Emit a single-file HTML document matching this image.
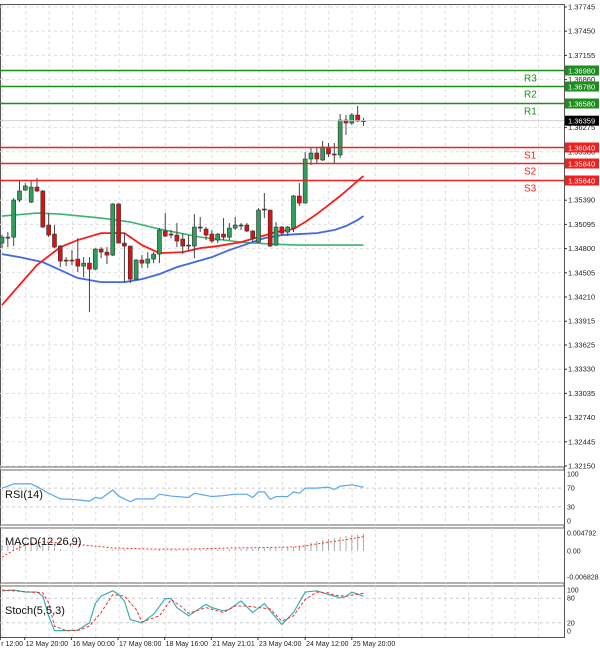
<!DOCTYPE html>
<html><head><meta charset="utf-8"><style>
html,body{margin:0;padding:0;background:#fff;width:600px;height:654px;overflow:hidden}
svg{display:block;font-family:"Liberation Sans",sans-serif}
</style></head><body>
<svg id="c" width="600" height="654" xmlns="http://www.w3.org/2000/svg"></svg>
<script>
const opens=[1.34867,1.34940,1.34940,1.35392,1.35514,1.35367,1.35550,1.35502,1.35087,1.34977,1.34831,1.34660,1.34660,1.34672,1.34587,1.34623,1.34550,1.34794,1.34757,1.34721,1.35343,1.34867,1.34831,1.34428,1.34660,1.34623,1.34672,1.34733,1.35014,1.34977,1.34965,1.34916,1.34843,1.34831,1.35063,1.35038,1.34977,1.34904,1.34977,1.34940,1.35050,1.35087,1.35087,1.35014,1.34879,1.35282,1.35270,1.34843,1.35063,1.35002,1.35050,1.35441,1.35355,1.35892,1.35965,1.35880,1.36038,1.35953,1.35941,1.36367,1.36331,1.36428,1.36355];
const highs=[1.34965,1.35002,1.35416,1.35624,1.35599,1.35624,1.35660,1.35514,1.35233,1.35087,1.34843,1.34696,1.34782,1.34928,1.34696,1.34696,1.34806,1.34818,1.34818,1.35355,1.35355,1.34989,1.34831,1.34672,1.34721,1.34757,1.34757,1.35050,1.35233,1.35026,1.35111,1.34989,1.34965,1.35221,1.35185,1.35063,1.35026,1.34989,1.35172,1.35111,1.35185,1.35111,1.35111,1.35026,1.35294,1.35477,1.35270,1.35124,1.35075,1.35075,1.35453,1.35599,1.35977,1.36026,1.36026,1.36111,1.36087,1.36087,1.36440,1.36428,1.36453,1.36538,1.36392];
const lows=[1.34806,1.34818,1.34831,1.35367,1.35502,1.35355,1.35489,1.35050,1.34940,1.34806,1.34574,1.34587,1.34599,1.34513,1.34452,1.34025,1.34538,1.34684,1.34611,1.34709,1.34867,1.34391,1.34379,1.34416,1.34562,1.34562,1.34623,1.34623,1.34940,1.34928,1.34818,1.34733,1.34782,1.34684,1.35002,1.34904,1.34867,1.34867,1.34904,1.34904,1.35026,1.35026,1.35002,1.34879,1.34867,1.35172,1.34818,1.34831,1.34965,1.34953,1.35002,1.35319,1.35355,1.35819,1.35831,1.35867,1.35916,1.35843,1.35904,1.36184,1.36306,1.36343,1.36294];
const closes=[1.34940,1.34940,1.35392,1.35502,1.35563,1.35550,1.35502,1.35063,1.34965,1.34818,1.34648,1.34655,1.34655,1.34587,1.34623,1.34550,1.34794,1.34757,1.34721,1.35343,1.34867,1.34831,1.34428,1.34660,1.34623,1.34672,1.34733,1.35026,1.34953,1.34970,1.34892,1.34831,1.34831,1.35063,1.35050,1.34965,1.34892,1.34977,1.34940,1.35050,1.35087,1.35082,1.35014,1.34928,1.35270,1.35277,1.34831,1.35063,1.34989,1.35063,1.35441,1.35355,1.35892,1.35965,1.35892,1.36038,1.35953,1.35948,1.36367,1.36331,1.36428,1.36355,1.36359];
const maRedIdx=[0,3,6,10,13,17,21,24,27,31,34,37,41,44,47,50,52,54,56,58,60,62];
const maRedVal=[1.34112,1.34356,1.34599,1.34818,1.34904,1.34989,1.34989,1.34843,1.34745,1.34757,1.34806,1.34831,1.34879,1.34940,1.35002,1.35038,1.35124,1.35221,1.35331,1.35441,1.35563,1.35685];
const maBlueIdx=[0,3,7,10,13,17,21,24,27,30,33,36,39,42,45,48,51,54,57,59,61,62];
const maBlueVal=[1.34733,1.34696,1.34635,1.34538,1.34441,1.34391,1.34391,1.34428,1.34489,1.34574,1.34635,1.34696,1.34782,1.34855,1.34928,1.34965,1.34977,1.34989,1.35026,1.35075,1.35148,1.35197];
const maGreenIdx=[0,6,10,17,22,27,34,41,46,51,62];
const maGreenVal=[1.35197,1.35233,1.35221,1.35172,1.35124,1.35038,1.34940,1.34879,1.34855,1.34843,1.34843];
const priceTicks=["1.37745","1.37450","1.37155","1.36860","1.36275","1.35980","1.35390","1.35095","1.34800","1.34505","1.34210","1.33915","1.33625","1.33330","1.33035","1.32740","1.32445","1.32150"];
const resLevels=[1.36980,1.36780,1.36580];
const resNames=["R3","R2","R1"];
const supLevels=[1.36040,1.35840,1.35640];
const supNames=["S1","S2","S3"];
const lastPrice=1.36359;
const rsiIdx=[0,1,2,5,6,8,10,12,13,15,16,17,19,20,22,23,26,27,29,32,33,36,38,40,42,43,44,45,46,47,49,50,51,52,54,56,57,58,60,62];
const rsiVal=[70,74,79,79,73,59,47,46,45,42,50,48,66,53,41,47,47,57,53,50,59,52,54,57,57,50,62,62,46,52,52,62,59,70,70,72,67,74,77,72];
const macdHist=[0.0016,0.0018,0.0020,0.0022,0.0024,0.0025,0.0024,0.0020,0.0014,0.0009,0.0005,0.0002,0.0001,0.0000,-0.0001,-0.0001,0.0000,0.0001,0.0002,0.0004,0.0004,0.0003,0.0001,0.0000,0.0000,0.0001,0.0002,0.0003,0.0003,0.0003,0.0003,0.0002,0.0003,0.0004,0.0004,0.0004,0.0004,0.0004,0.0004,0.0005,0.0005,0.0006,0.0006,0.0006,0.0008,0.0009,0.0009,0.0008,0.0009,0.0010,0.0011,0.0014,0.0018,0.0022,0.0026,0.0029,0.0032,0.0034,0.0036,0.0040,0.0042,0.0044,0.0045];
const macdSigIdx=[0,2,4,7,10,14,19,26,32,39,45,51,55,59,62];
const macdSigVal=[-0.0016,0.0002,0.0016,0.0024,0.0021,0.0016,0.0008,0.0005,0.0005,0.0008,0.0009,0.0011,0.0021,0.0030,0.0038];
const stochKIdx=[0,2,4,6,7,8,9,11,13,15,16,17,19,20,21,22,24,26,28,29,30,32,35,36,38,39,41,43,45,46,48,50,52,54,56,58,59,60,62];
const stochKVal=[98,100,95,95,85,37,1,1,2,20,67,85,98,89,73,28,20,41,79,79,57,37,65,57,49,53,73,45,67,49,16,45,95,98,89,81,84,95,85];
const stochDIdx=[0,2,5,7,8,9,11,13,15,17,19,21,23,24,27,29,31,32,35,38,40,42,44,46,48,50,52,54,56,57,59,62];
const stochDVal=[100,98,95,93,69,12,1,1,12,45,89,85,53,22,37,77,57,43,57,45,61,61,57,54,24,37,77,95,93,87,85,92];
const timeLabels=["r 12:00","12 May 20:00","16 May 00:00","17 May 08:00","18 May 16:00","21 May 21:01","23 May 04:00","24 May 12:00","25 May 20:00"];
const timeLabelIdx=[-0.3,3.9,11.9,19.9,27.9,35.9,43.9,52,60];

const svg=document.getElementById('c');
const NS='http://www.w3.org/2000/svg';
function mk(tag,attrs,parent){const e=document.createElementNS(NS,tag);for(const k in attrs)e.setAttribute(k,attrs[k]);(parent||svg).appendChild(e);return e;}
const PR=564;
const xi=i=>2+i*5.83;
const yP=p=>466-(p-1.3215)*8204;
const yR=v=>521-v*0.47;
const yM=v=>551-v*3787;
const yS=v=>631-v*0.41;

// frame
let fr=mk('rect',{x:0.5,y:4.5,width:PR,height:633,fill:'none',stroke:'#555','stroke-width':1});

// panel separators
[[467,470],[525,528],[583,586]].forEach(([a,b])=>{
  let s=mk('rect',{x:0,y:a,width:PR,height:b-a,fill:'#fff',stroke:'#666','stroke-width':1});
  
});
// vertical grid
const grid=mk('g',{stroke:'#ddd','stroke-dasharray':'3,3','stroke-width':1});

for(let x=538.5;x>0;x-=23.3){[[5,467],[470,525],[528,583],[586,637]].forEach(([a,b])=>mk('line',{x1:x,y1:a,x2:x,y2:b},grid));}
// price ticks + horizontal grid
const pax=mk('g',{'font-size':'7.5',fill:'#222'});

priceTicks.forEach(t=>{const y=yP(parseFloat(t));
  mk('line',{x1:0,y1:y,x2:PR,y2:y,stroke:'#ddd','stroke-dasharray':'3,3'},grid);
  mk('line',{x1:PR,y1:y,x2:PR+3,y2:y,stroke:'#333'},pax);
  const tx=mk('text',{x:568,y:y+2.5},pax);tx.textContent=t;});
// MAs
function poly(idx,val,fy,col,w,dash,name){const pts=idx.map((i,k)=>xi(i)+','+fy(val[k])).join(' ');
  const p=mk('polyline',{points:pts,fill:'none',stroke:col,'stroke-width':w});if(dash)p.setAttribute('stroke-dasharray',dash);
  return p;}
poly(maGreenIdx,maGreenVal,yP,'#3cb371',1.6,null,'ma-green');
poly(maBlueIdx,maBlueVal,yP,'#4169e1',1.8,null,'ma-blue');
poly(maRedIdx,maRedVal,yP,'#ff1a1a',1.8,null,'ma-red');
// candles
const cg=mk('g',{});
opens.forEach((o,i)=>{const x=xi(i),c=closes[i];const up=c>=o;
  const w=mk('line',{x1:x,y1:yP(highs[i]),x2:x,y2:yP(lows[i]),stroke:'#444','stroke-width':1},cg);
  
  const t=Math.min(yP(o),yP(c)),h=Math.max(1,Math.abs(yP(o)-yP(c)));
  const r=mk('rect',{x:x-2,y:t,width:4,height:h,fill:up?'#2e9e5a':'#e01010',stroke:'#333','stroke-width':0.6},cg);
  });
// levels
function level(p,col,name,lab){const y=Math.round(yP(p))+0.5;
  const l=mk('line',{x1:0,y1:y,x2:PR,y2:y,stroke:col,'stroke-width':1.6});
  
  const b=mk('rect',{x:PR+1,y:y-5,width:34,height:10,fill:col});
  
  const t=mk('text',{x:PR+4,y:y+3,'font-size':'7.5',fill:'#fff'});t.textContent=lab;
  const n=mk('text',{x:524,y:y+11,'font-size':'10',fill:col});n.textContent=name;
  }
resLevels.forEach((p,k)=>level(p,'#1e8c1e',resNames[k],p.toFixed(5)));
supLevels.forEach((p,k)=>level(p,'#f02020',supNames[k],p.toFixed(5)));
{const y=yP(lastPrice);const l=mk('line',{x1:0,y1:y,x2:PR,y2:y,stroke:'#ccc','stroke-width':0.8});
 
 const b=mk('rect',{x:PR+1,y:y-5,width:34,height:10,fill:'#000'});
 
 const t=mk('text',{x:PR+4,y:y+3,'font-size':'7.5',fill:'#fff'});t.textContent=lastPrice.toFixed(5);}
// RSI panel
[[70,'70'],[30,'30']].forEach(([v])=>mk('line',{x1:0,y1:yR(v),x2:PR,y2:yR(v),stroke:'#ccc','stroke-dasharray':'3,3'}));
poly(rsiIdx,rsiVal,yR,'#5aa5f0',1.2,null,'rsi-line');
function ax(labels,fy,name){const g=mk('g',{'font-size':'7',fill:'#222'});
 labels.forEach(([v,s])=>{const t=mk('text',{x:567,y:fy(v)+2.5},g);t.textContent=s;});}
ax([[100,'100'],[70,'70'],[30,'30'],[0,'0']],yR,'rsi-axis');
let tl=mk('text',{x:5,y:498,'font-size':'11',fill:'#111'});tl.textContent='RSI(14)';
// MACD panel
const mg=mk('g',{stroke:'#aaa','stroke-width':1});
macdHist.forEach((v,i)=>mk('line',{x1:xi(i),y1:yM(0),x2:xi(i),y2:yM(v)},mg));
poly(macdSigIdx,macdSigVal,yM,'#f03030',1,'2,2','macd-signal');
ax([[0.004792,'0.004792'],[0,'0.00'],[-0.006828,'-0.006828']],yM,'macd-axis');
tl=mk('text',{x:5,y:545,'font-size':'11',fill:'#111'});tl.textContent='MACD(12,26,9)';
// Stoch
[80,20].forEach(v=>mk('line',{x1:0,y1:yS(v),x2:PR,y2:yS(v),stroke:'#ccc','stroke-dasharray':'3,3'}));
poly(stochKIdx,stochKVal,yS,'#3ab0b0',1.2,null,'stoch-k');
poly(stochDIdx,stochDVal,yS,'#f03030',1,'3,2','stoch-d');
ax([[100,'100'],[80,'80'],[20,'20'],[0,'0']],yS,'stoch-axis');
tl=mk('text',{x:5,y:614,'font-size':'11',fill:'#111'});tl.textContent='Stoch(5,5,3)';
// time axis
const tg=mk('g',{'font-size':'7',fill:'#222'});
timeLabels.forEach((s,k)=>{const x=xi(timeLabelIdx[k]);mk('line',{x1:x,y1:637,x2:x,y2:640,stroke:'#333'},tg);
 const t=mk('text',{x:x+1,y:646},tg);t.textContent=s;});
</script>
</body></html>
